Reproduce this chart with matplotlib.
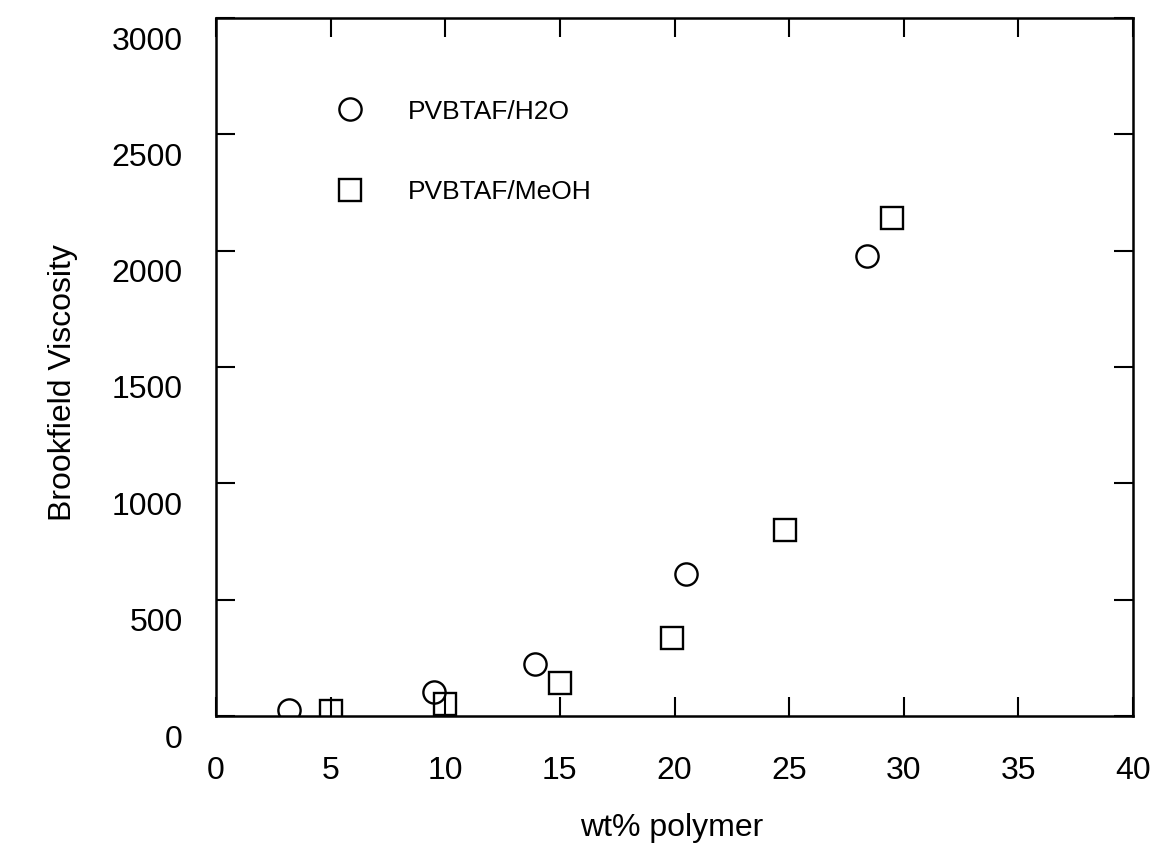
import matplotlib
matplotlib.use("Agg")
import matplotlib.pyplot as plt
from matplotlib.transforms import ScaledTranslation

plt.rcParams['font.family'] = ['Liberation Sans', 'DejaVu Sans']

# values
h2o_wt = [3.2, 9.5, 13.9, 20.5, 28.4]
h2o_visc = [25, 105, 225, 610, 1975]

meoh_wt = [5, 10, 15, 19.9, 24.8, 29.5]
meoh_visc = [20, 50, 140, 335, 800, 2140]

x_ticks = [0, 5, 10, 15, 20, 25, 30, 35, 40]
y_ticks = [0, 500, 1000, 1500, 2000, 2500, 3000]

fig = plt.figure(figsize=(11.58, 8.48), dpi=100)
ax = fig.add_axes([216 / 1158, 1 - 716 / 848, 917 / 1158, 698 / 848])

ax.plot(h2o_wt, h2o_visc, 'o', ms=16, mfc='none', mec='black', mew=1.7,
        label='PVBTAF/H2O')
ax.plot(meoh_wt, meoh_visc, 's', ms=16, mfc='none', mec='black', mew=1.7,
        label='PVBTAF/MeOH')

ax.set_xlim(0, 40)
ax.set_ylim(0, 3000)
ax.set_xticks(x_ticks)
ax.set_yticks(y_ticks)

for sp in ax.spines.values():
    sp.set_linewidth(1.8)

ax.tick_params(direction='in', length=14, width=1.5, top=True, right=True,
               labelsize=23, colors='black')
ax.tick_params(axis='x', pad=29)
ax.tick_params(axis='y', pad=24)

# y labels sit a bit below their ticks in the original
shift = ScaledTranslation(0, -20 / 100, fig.dpi_scale_trans)
for lab in ax.get_yticklabels():
    lab.set_transform(lab.get_transform() + shift)

ax.set_xlabel('wt% polymer', fontsize=23)
ax.set_ylabel('Brookfield Viscosity', fontsize=23)
ax.xaxis.set_label_coords(0.497, -0.139)
ax.yaxis.set_label_coords(-0.15, 0.477)

ax.legend(loc='upper left', bbox_to_anchor=(0.132, 0.883), frameon=False,
          borderaxespad=0, borderpad=0, handlelength=1.0,
          handletextpad=1.7, labelspacing=2.15, fontsize=19)

fig.savefig('out.png', dpi=100)
